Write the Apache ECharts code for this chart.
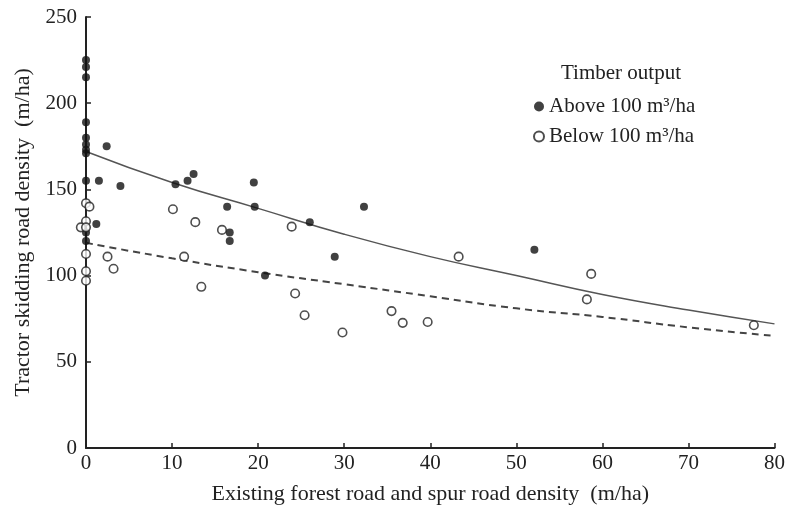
<!DOCTYPE html>
<html>
<head>
<meta charset="utf-8">
<script src="https://cdn.jsdelivr.net/npm/echarts@6/dist/echarts.min.js"></script>
<style>
  html, body { margin: 0; padding: 0; background: #fff; }
  #chart { width: 788px; height: 512px; }
</style>
</head>
<body>
<div id="chart"></div>
<script>
// tick labels
const xTicks = [0, 10, 20, 30, 40, 50, 60, 70, 80];
const yTicks = [0, 50, 100, 150, 200, 250];

// timber output above 100 m3/ha (filled dots)
const abovePoints = [
  [0, 225], [0, 221], [0, 215], [0, 189], [0, 180], [0, 176], [0, 173], [0, 171],
  [0, 155], [0, 125], [0, 120],
  [2.4, 175], [1.5, 155], [4.0, 152], [1.2, 130],
  [10.4, 153], [11.8, 155], [12.5, 159], [19.5, 154], [16.4, 140], [19.6, 140],
  [16.7, 125], [16.7, 120], [26.0, 131], [32.3, 140], [28.9, 111], [20.8, 100],
  [52.1, 115]
];

// timber output below 100 m3/ha (open circles)
const belowPoints = [
  [0, 142], [0.4, 140], [0, 131.5], [-0.6, 128], [0, 128], [0, 112.5], [2.5, 111],
  [3.2, 104], [0, 102.5], [0, 97],
  [10.1, 138.5], [12.7, 131], [15.8, 126.5], [23.9, 128.4], [11.4, 111], [13.4, 93.5],
  [24.3, 89.6], [25.4, 77], [29.8, 67], [35.5, 79.4], [36.8, 72.6], [39.7, 73.1],
  [43.3, 111], [58.7, 101], [58.2, 86.2], [77.6, 71.2]
];

// fitted curves
const curveX = [0, 10, 20, 30, 40, 50, 60, 70, 80];
const aboveCurve = [172, 154, 139, 124, 111, 100, 89, 80, 72];
const belowCurve = [119, 110, 102, 95, 88, 81, 76, 70, 65];

const font = 'Liberation Serif';
const ink = '#222';

const chart = echarts.init(document.getElementById('chart'));

const option = {
  backgroundColor: '#fff',
  animation: false,
  textStyle: { fontFamily: font, color: ink },
  title: {
    text: 'Timber output',
    left: 556,
    top: 58,
    textStyle: { fontFamily: font, fontSize: 21, fontWeight: 'normal', color: ink },
  },
  legend: {
    orient: 'vertical',
    left: 528,
    top: 91,
    itemGap: 9,
    itemWidth: 10,
    itemHeight: 10,
    data: ['Above 100 m³/ha', 'Below 100 m³/ha'],
    textStyle: { fontFamily: font, fontSize: 21, color: ink },
  },
  grid: {
    left: 86,
    right: 9,
    top: 17,
    bottom: 64,
  },
  xAxis: {
    type: 'value',
    min: 0,
    max: 80,
    interval: 10,
    name: 'Existing forest road and spur road density  (m/ha)',
    nameLocation: 'middle',
    nameGap: 35,
    nameTextStyle: { fontFamily: font, fontSize: 22, color: ink },
    axisLine: { lineStyle: { color: ink, width: 2 } },
    axisTick: { inside: true, length: 5, lineStyle: { color: ink, width: 1.5 } },
    axisLabel: {
      fontFamily: font, fontSize: 21, color: ink, margin: 5,
      formatter: (v) => (xTicks.includes(v) ? String(v) : ''),
    },
    splitLine: { show: false },
  },
  yAxis: {
    type: 'value',
    min: 0,
    max: 250,
    interval: 50,
    name: 'Tractor skidding road density  (m/ha)',
    nameLocation: 'middle',
    nameGap: 52,
    nameTextStyle: { fontFamily: font, fontSize: 22, color: ink },
    axisLine: { show: true, lineStyle: { color: ink, width: 2 } },
    axisTick: { show: true, inside: true, length: 5, lineStyle: { color: ink, width: 1.5 } },
    axisLabel: {
      fontFamily: font, fontSize: 21, color: ink, margin: 9,
      formatter: (v) => (yTicks.includes(v) ? String(v) : ''),
    },
    splitLine: { show: false },
  },
  series: [
    {
      name: 'Above 100 m³/ha',
      type: 'scatter',
      data: abovePoints,
      symbol: 'circle',
      symbolSize: 8,
      clip: false,
      itemStyle: { color: '#111' },
      z: 3,
    },
    {
      name: 'Below 100 m³/ha',
      type: 'scatter',
      data: belowPoints,
      symbol: 'circle',
      symbolSize: 8.5,
      clip: false,
      itemStyle: { color: '#fff', borderColor: '#222', borderWidth: 1.6 },
      z: 3,
    },
    {
      name: 'above fit',
      type: 'line',
      data: curveX.map((x, i) => [x, aboveCurve[i]]),
      smooth: true,
      showSymbol: false,
      lineStyle: { color: '#555', width: 1.5 },
      z: 2,
    },
    {
      name: 'below fit',
      type: 'line',
      data: curveX.map((x, i) => [x, belowCurve[i]]),
      smooth: true,
      showSymbol: false,
      lineStyle: { color: '#444', width: 2, type: [7, 5] },
      z: 2,
    },
  ],
};

chart.setOption(option);
</script>
</body>
</html>
